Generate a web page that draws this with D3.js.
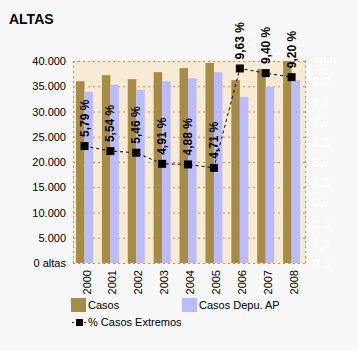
<!doctype html>
<html>
<head>
<meta charset="utf-8">
<style>
  body { margin: 0; background: #f8f8f8; }
  svg { display: block; font-family: "Liberation Sans", Arial, sans-serif; }
</style>
</head>
<body>
<svg id="chart"></svg>
<script src="https://d3js.org/d3.v7.min.js"></script>
<script>
// data
let years = ["2000", "2001", "2002", "2003", "2004", "2005", "2006", "2007", "2008"];
let casos = [36000, 37200, 36400, 37800, 38600, 39600, 36200, 38400, 40000];
let casosDepu = [33900, 35300, 34300, 36000, 36600, 37800, 32900, 34900, 36200];
let pctExtremos = [5.79, 5.54, 5.46, 4.91, 4.88, 4.71, 9.63, 9.40, 9.20];
let leftTicks = [0, 5000, 10000, 15000, 20000, 25000, 30000, 35000, 40000];
let rightTicks = [0, 1, 2, 3, 4, 5, 6, 7, 8, 9, 10];

let width = 358, height = 351;
let plotL = 73, plotR = 306, plotT = 61, plotB = 263;

let svg = d3.select("#chart")
    .attr("width", width)
    .attr("height", height);

let x = d3.scaleBand().domain(years).range([plotL, plotR]);
let y = d3.scaleLinear().domain([0, 40000]).range([plotB, plotT]);
let y2 = d3.scaleLinear().domain([0, 10]).range([plotB, plotT]);

let fmt = d3.formatLocale({decimal: ",", thousands: ".", grouping: [3], currency: ["", ""]});

svg.append("text")
    .attr("x", 9).attr("y", 24)
    .attr("font-size", 14).attr("font-weight", "bold")
    .text("ALTAS");

// plot background
svg.append("rect")
    .attr("x", plotL).attr("y", plotT)
    .attr("width", plotR - plotL).attr("height", plotB - plotT)
    .attr("fill", "#f7ebd6");

// gridlines
svg.append("g").selectAll("line")
    .data(leftTicks)
    .enter().append("line")
    .attr("x1", plotL).attr("x2", plotR)
    .attr("y1", d => y(d) + 0.5).attr("y2", d => y(d) + 0.5)
    .attr("stroke", "#ff8040")
    .attr("stroke-dasharray", "2,3");

svg.append("line")
    .attr("x1", plotL + 0.5).attr("x2", plotL + 0.5)
    .attr("y1", plotT).attr("y2", plotB)
    .attr("stroke", "#ff8040").attr("stroke-dasharray", "2,3");
svg.append("line")
    .attr("x1", plotR - 0.5).attr("x2", plotR - 0.5)
    .attr("y1", plotT).attr("y2", plotB)
    .attr("stroke", "#ff8040").attr("stroke-dasharray", "2,3");

// bars
let barW = 8.5, off = 3;
svg.append("g").selectAll("rect")
    .data(casos)
    .enter().append("rect")
    .attr("x", (d, i) => x(years[i]) + off)
    .attr("y", d => y(d))
    .attr("width", barW)
    .attr("height", d => plotB - y(d))
    .attr("fill", "#a68c45");

svg.append("g").selectAll("rect")
    .data(casosDepu)
    .enter().append("rect")
    .attr("x", (d, i) => x(years[i]) + off + barW)
    .attr("y", d => y(d))
    .attr("width", barW)
    .attr("height", d => plotB - y(d))
    .attr("fill", "#bbbbff");

// left axis labels
svg.append("g").selectAll("text")
    .data(leftTicks)
    .enter().append("text")
    .attr("x", 66).attr("y", d => y(d) + 4)
    .attr("text-anchor", "end")
    .attr("font-size", 11)
    .text(d => d === 0 ? "0 altas" : fmt.format(",")(d));

// right axis labels (white)
svg.append("g").selectAll("text")
    .data(rightTicks)
    .enter().append("text")
    .attr("x", 313).attr("y", d => y2(d) + 5)
    .attr("font-size", 12).attr("font-weight", "bold")
    .attr("fill", "#ffffff")
    .text(d => fmt.format(".1f")(d));

// year labels
svg.append("g").selectAll("text")
    .data(years)
    .enter().append("text")
    .attr("transform", d => "translate(" + (x(d) + off + barW + 6) + ",270) rotate(-90)")
    .attr("text-anchor", "end")
    .attr("font-size", 11)
    .text(d => d);

// line
let cx = (d, i) => x(years[i]) + off + barW;
let line = d3.line()
    .x((d, i) => cx(d, i))
    .y(d => y2(d));

svg.append("path")
    .datum(pctExtremos)
    .attr("d", line)
    .attr("fill", "none")
    .attr("stroke", "#000")
    .attr("stroke-dasharray", "3,3");

svg.append("g").selectAll("rect")
    .data(pctExtremos)
    .enter().append("rect")
    .attr("x", (d, i) => cx(d, i) - 4)
    .attr("y", d => y2(d) - 4)
    .attr("width", 8).attr("height", 8)
    .attr("fill", "#000");

svg.append("g").selectAll("text")
    .data(pctExtremos)
    .enter().append("text")
    .attr("transform", (d, i) => "translate(" + (cx(d, i) + 4) + "," + (y2(d) - 9) + ") rotate(-90)")
    .attr("font-size", 12).attr("font-weight", "bold")
    .text(d => fmt.format(".2f")(d) + " %");

// legend
let legend = svg.append("g");
legend.append("rect").attr("x", 71).attr("y", 298).attr("width", 15).attr("height", 14).attr("fill", "#a68c45");
legend.append("text").attr("x", 88).attr("y", 309).attr("font-size", 11).text("Casos");
legend.append("rect").attr("x", 182).attr("y", 298).attr("width", 15).attr("height", 14).attr("fill", "#bbbbff");
legend.append("text").attr("x", 199).attr("y", 309).attr("font-size", 11).text("Casos Depu. AP");
legend.append("line").attr("x1", 72).attr("x2", 87).attr("y1", 322.5).attr("y2", 322.5)
    .attr("stroke", "#000").attr("stroke-dasharray", "2,2");
legend.append("rect").attr("x", 76).attr("y", 319).attr("width", 7).attr("height", 7).attr("fill", "#000");
legend.append("text").attr("x", 88).attr("y", 326).attr("font-size", 11).text("% Casos Extremos");
</script>
</body>
</html>
